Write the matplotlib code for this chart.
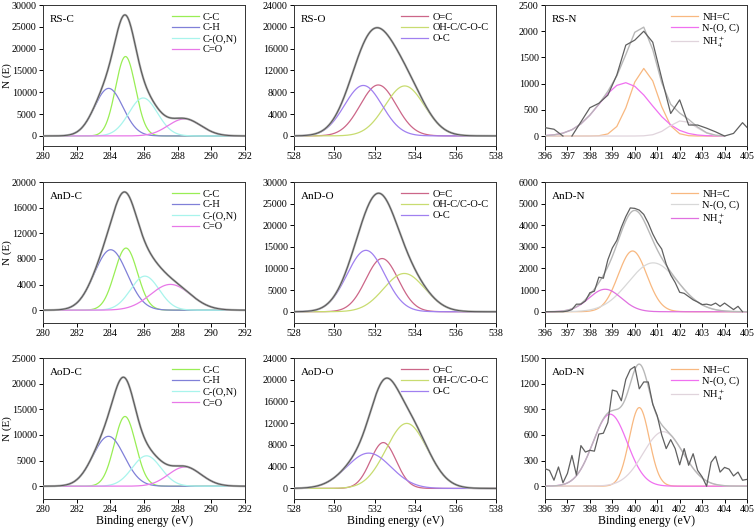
import numpy as np
import matplotlib
matplotlib.use('Agg')
import matplotlib.pyplot as plt

plt.rcParams['font.family'] = 'Liberation Serif'
plt.rcParams['mathtext.fontset'] = 'stix'

# ---- data: peak centre (eV), height, FWHM (eV) ----
c_names = ['C-C', 'C-H', 'C-(O,N)', 'C=O']
o_names = ['O=C', 'OH-C/C-O-C', 'O-C']

rs_c_center = [284.9, 283.9, 285.95, 288.4]
rs_c_height = [18200, 10900, 8700, 3900]
rs_c_fwhm = [1.4, 2.0, 2.0, 2.3]

rs_o_center = [532.17, 533.48, 531.43]
rs_o_height = [9340, 9160, 9250]
rs_o_fwhm = [2.1, 2.3, 2.2]

rs_n_names = ['NH=C', 'N-(O, C)', 'NH$_4^+$']
rs_n_center = [400.41, 399.57, 402.12]
rs_n_height = [1290, 1018, 293]
rs_n_fwhm = [1.44, 2.7, 1.4]
rs_n_raw_x = [396.0, 396.4, 396.8, 397.0, 397.2, 397.6, 398.0, 398.4, 398.8, 399.2, 399.6,
              400.0, 400.4, 400.8, 401.2, 401.6, 402.0, 402.4, 402.8, 403.2, 403.6,
              404.0, 404.4, 404.8, 405.0]
rs_n_raw_y = [160, 130, 0, np.nan, 0, 270, 540, 625, 780, 1165, 1735,
              1830, 2000, 1790, 1100, 430, 690, 210, 210, 150, 80,
              0, 50, 255, 165]

and_c_center = [284.93, 284.02, 286.05, 287.57]
and_c_height = [9690, 9430, 5310, 4020]
and_c_fwhm = [1.6, 2.3, 2.0, 2.8]

and_o_center = [532.36, 533.46, 531.56]
and_o_height = [12300, 8850, 14200]
and_o_fwhm = [1.9, 2.4, 2.2]

and_n_names = ['NH=C', 'N-(O, C)', 'NH$_4^+$']
and_n_center = [399.9, 400.82, 398.68]
and_n_height = [2810, 2260, 1040]
and_n_fwhm = [1.5, 2.6, 1.7]
and_n_raw_x = [396.0, 396.4, 396.8, 397.0, 397.2, 397.4, 397.6, 397.8, 398.0, 398.2, 398.4,
               398.6, 398.8, 399.0, 399.2, 399.4, 399.6, 399.8, 400.0, 400.2, 400.4,
               400.6, 400.8, 401.0, 401.2, 401.4, 401.6, 401.8, 402.0, 402.2, 402.4,
               402.6, 402.8, 403.0, 403.2, 403.4, 403.6, 403.8, 404.0, 404.2, 404.4,
               404.6, 404.8]
and_n_raw_y = [0, 0, 0, 30, 100, 350, 350, 500, 880, 950, 1600,
               1550, 2400, 2950, 3300, 3900, 4400, 4800, 4780, 4700, 4500,
               4100, 3600, 3200, 2900, 2200, 1700, 1350, 900, 850, 700,
               550, 450, 330, 350, 300, 400, 250, 400, 250, 100,
               250, 0]

aod_c_center = [284.87, 283.89, 286.15, 288.42]
aod_c_height = [13600, 9730, 5930, 3740]
aod_c_fwhm = [1.5, 2.2, 2.0, 2.3]

aod_o_center = [532.42, 533.58, 531.7]
aod_o_height = [8440, 11970, 6500]
aod_o_fwhm = [1.5, 2.4, 2.6]

aod_n_names = ['NH=C', 'N-(O, C)', 'NH$_4^+$']
aod_n_center = [400.2, 398.9, 401.27]
aod_n_height = [920, 843, 638]
aod_n_fwhm = [1.05, 1.8, 2.1]
aod_n_raw_x = [396.0, 396.2, 396.4, 396.6, 396.8, 397.0, 397.2, 397.4, 397.6, 397.8,
               398.0, 398.2, 398.4, 398.6, 398.8, 399.0, 399.2, 399.4, 399.6, 399.8,
               400.0, 400.2, 400.4, 400.6, 400.8, 401.0, 401.2, 401.4, 401.6, 401.8,
               402.0, 402.2, 402.4, 402.6, 402.8, 403.0, 403.2, 403.4, 403.6, 403.8,
               404.0, 404.2, 404.4, 404.6, 404.8, 405.0]
aod_n_raw_y = [205, 185, 70, 225, 40, 150, 360, 130, 475, 400,
               420, 410, 610, 620, 745, 1125, 1110, 1000, 1250, 1365,
               1400, 1140, 1220, 1220, 960, 825, 600, 440, 545, 440,
               250, 440, 245, 380, 185, 110, 0, 280, 350, 165,
               220, 200, 120, 165, 70, 80]

# colours
c_colors = ['#99ee55', '#8080d8', '#a8f4ec', '#e878e8']
o_colors = ['#cc6688', '#c8dc70', '#a080f0']
n_colors_rs = ['#f8b880', '#f070f0', '#e0d4dc']
n_colors_and = ['#f8b880', '#d8d8d8', '#e070e0']
n_colors_aod = ['#f8b880', '#f070f0', '#e0d4dc']


def gauss(x, c, h, fwhm):
    s = fwhm / 2.3548
    return h * np.exp(-(x - c) ** 2 / (2 * s ** 2))


def draw_panel(ax, label, names, centers, heights, fwhms, colors, xlim, xticks,
               ylim, yticks, grid, raw_x=None, raw_y=None):
    total = np.zeros_like(grid)
    lines = []
    for n, c, h, w, col in zip(names, centers, heights, fwhms, colors):
        y = gauss(grid, c, h, w)
        total += y
        l, = ax.plot(grid, y, color=col, lw=0.9, label=n)
        lines.append(l)
    if raw_x is None:
        ax.plot(grid, total, color='#b0b0b0', lw=1.6, zorder=3)
        ax.plot(grid, total, color='#555555', lw=0.7, zorder=4)
    else:
        ax.plot(grid, total, color='#b8b8b8', lw=1.0, zorder=3)
        ax.plot(raw_x, raw_y, color='#606060', lw=0.9, zorder=4)
    ax.set_xlim(xlim)
    ax.set_ylim(ylim)
    ax.set_xticks(xticks)
    ax.set_yticks(yticks)
    ax.tick_params(labelsize=7.2, length=3, width=0.7, pad=1.5)
    for sp in ax.spines.values():
        sp.set_linewidth(0.7)
        sp.set_color('#333333')
    ax.text(0.035, 0.93, label, transform=ax.transAxes, fontsize=8, va='top')
    ax.legend(handles=lines, loc='upper right', frameon=False, fontsize=7.5,
              handlelength=2.6, handletextpad=0.4, labelspacing=0.15,
              borderaxespad=0.3)


fig = plt.figure(figsize=(7.56, 5.28), dpi=100)
lefts = [0.0569, 0.3889, 0.7209]
bottoms = [0.7235, 0.3883, 0.0549]
w, h = 0.2672, 0.267
axs = [[fig.add_axes([lx, by, w, h]) for lx in lefts] for by in bottoms]

gc = np.linspace(280, 292, 600)
go = np.linspace(528, 538, 600)
gn_rs = np.arange(396.0, 404.01, 0.4)
gn = np.linspace(396, 405, 500)

# row 1
draw_panel(axs[0][0], 'RS-C', c_names, rs_c_center, rs_c_height, rs_c_fwhm, c_colors,
           (280, 292), range(280, 293, 2), (-2300, 30000), range(0, 30001, 5000), gc)
draw_panel(axs[0][1], 'RS-O', o_names, rs_o_center, rs_o_height, rs_o_fwhm, o_colors,
           (528, 538), range(528, 539, 2), (-1850, 24000), range(0, 24001, 4000), go)
draw_panel(axs[0][2], 'RS-N', rs_n_names, rs_n_center, rs_n_height, rs_n_fwhm, n_colors_rs,
           (396, 405), range(396, 406), (-190, 2500), range(0, 2501, 500), gn_rs,
           rs_n_raw_x, rs_n_raw_y)
# row 2
draw_panel(axs[1][0], 'AnD-C', c_names, and_c_center, and_c_height, and_c_fwhm, c_colors,
           (280, 292), range(280, 293, 2), (-2000, 20000), range(0, 20001, 4000), gc)
draw_panel(axs[1][1], 'AnD-O', o_names, and_o_center, and_o_height, and_o_fwhm, o_colors,
           (528, 538), range(528, 539, 2), (-2600, 30000), range(0, 30001, 5000), go)
draw_panel(axs[1][2], 'AnD-N', and_n_names, and_n_center, and_n_height, and_n_fwhm, n_colors_and,
           (396, 405), range(396, 406), (-520, 6000), range(0, 6001, 1000), gn,
           and_n_raw_x, and_n_raw_y)
# row 3
draw_panel(axs[2][0], 'AoD-C', c_names, aod_c_center, aod_c_height, aod_c_fwhm, c_colors,
           (280, 292), range(280, 293, 2), (-2500, 25000), range(0, 25001, 5000), gc)
draw_panel(axs[2][1], 'AoD-O', o_names, aod_o_center, aod_o_height, aod_o_fwhm, o_colors,
           (528, 538), range(528, 539, 2), (-1950, 24000), range(0, 24001, 4000), go)
draw_panel(axs[2][2], 'AoD-N', aod_n_names, aod_n_center, aod_n_height, aod_n_fwhm, n_colors_aod,
           (396, 405), range(396, 406), (-150, 1500), range(0, 1501, 300), gn,
           aod_n_raw_x, aod_n_raw_y)

for row in axs:
    row[0].set_ylabel('N (E)', fontsize=8)
    row[0].yaxis.set_label_coords(-0.155, 0.5)
for ax in axs[2]:
    ax.set_xlabel('Binding energy (eV)', fontsize=8.5, va='center')
    ax.xaxis.set_label_coords(0.5, -0.155)

fig.savefig('out.png', dpi=100)
